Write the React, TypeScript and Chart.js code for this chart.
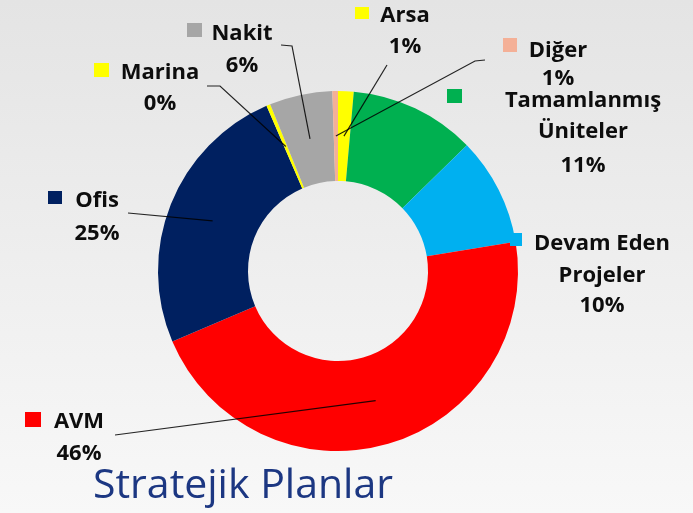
import React, { useEffect, useRef } from "react";
import { Chart, registerables } from "chart.js";

Chart.register(...registerables);

// ---- data ----
const categories = [
  "Arsa",
  "Tamamlanmış Üniteler",
  "Devam Eden Projeler",
  "AVM",
  "Ofis",
  "Marina",
  "Nakit",
  "Diğer",
];
const shares = [1.4, 11.3, 9.7, 46.2, 24.9, 0.35, 5.65, 0.5];
const labelNameLines = [
  ["Arsa"],
  ["Tamamlanmış", "Üniteler"],
  ["Devam Eden", "Projeler"],
  ["AVM"],
  ["Ofis"],
  ["Marina"],
  ["Nakit"],
  ["Diğer"],
];
const sliceColors = [
  "#ffff00",
  "#00b050",
  "#00b0f0",
  "#ff0000",
  "#002060",
  "#ffff00",
  "#a6a6a6",
  "#f4b097",
];
const chartTitle = "Stratejik Planlar";

// ---- label layout (canvas pixels) ----
type LabelLayout = {
  marker: [number, number, number, number];
  cx: number;
  baselines: number[];
  leader?: [number, number][];
};
const LABEL_LAYOUT: LabelLayout[] = [
  { marker: [355, 7, 14, 12], cx: 405, baselines: [22, 53], leader: [[387, 65]] },
  { marker: [447, 89, 15, 14], cx: 583, baselines: [107, 138, 172] },
  { marker: [510, 233, 12, 13], cx: 602, baselines: [250, 282, 312] },
  { marker: [25, 412, 16, 15], cx: 79, baselines: [428, 460], leader: [[115, 435]] },
  { marker: [48, 191, 14, 13], cx: 97, baselines: [207, 240], leader: [[128, 213]] },
  { marker: [94, 63, 15, 14], cx: 160, baselines: [79, 110], leader: [[207, 86], [220, 86]] },
  { marker: [187, 23, 15, 14], cx: 242, baselines: [40, 72], leader: [[281, 45], [292, 46]] },
  { marker: [503, 38, 14, 14], cx: 558, baselines: [57, 85], leader: [[485, 60], [475, 61]] },
];

const LABEL_FONT = "bold 22px 'Open Sans'";

const labelPlugin = {
  id: "sliceLabels",
  afterDatasetsDraw(chart: any) {
    const ctx: CanvasRenderingContext2D = chart.ctx;
    const meta = chart.getDatasetMeta(0);
    const values: number[] = chart.data.datasets[0].data;
    ctx.save();
    meta.data.forEach((arc: any, i: number) => {
      const L = LABEL_LAYOUT[i];
      if (!L) return;
      const p = arc.getProps(
        ["x", "y", "startAngle", "endAngle", "innerRadius", "outerRadius"],
        true
      );
      const mid = (p.startAngle + p.endAngle) / 2;
      const r = (p.innerRadius + p.outerRadius) / 2;
      const ex = p.x + Math.cos(mid) * r;
      const ey = p.y + Math.sin(mid) * r;
      if (L.leader) {
        ctx.beginPath();
        ctx.strokeStyle = "rgba(0,0,0,0.85)";
        ctx.lineWidth = 1.2;
        ctx.moveTo(L.leader[0][0], L.leader[0][1]);
        for (let k = 1; k < L.leader.length; k++) ctx.lineTo(L.leader[k][0], L.leader[k][1]);
        ctx.lineTo(ex, ey);
        ctx.stroke();
      }
      ctx.fillStyle = sliceColors[i];
      ctx.fillRect(L.marker[0], L.marker[1], L.marker[2], L.marker[3]);
      const lines = [...labelNameLines[i], `${Math.round(values[i])}%`];
      ctx.fillStyle = "#0d0d0d";
      ctx.font = LABEL_FONT;
      ctx.textAlign = "center";
      ctx.textBaseline = "alphabetic";
      lines.forEach((t, k) => {
        ctx.fillText(t, L.cx, L.baselines[k]);
      });
    });
    ctx.restore();
  },
};

export default function App() {
  const ref = useRef<HTMLCanvasElement | null>(null);
  useEffect(() => {
    if (!ref.current) return;
    const chart = new Chart(ref.current, {
      type: "doughnut",
      data: {
        labels: categories,
        datasets: [
          {
            data: shares,
            backgroundColor: sliceColors,
            borderWidth: 0,
            hoverOffset: 0,
          },
        ],
      },
      options: {
        responsive: false,
        animation: false,
        events: [],
        radius: 180,
        cutout: 90,
        rotation: 0,
        layout: { padding: { left: 158, right: 175, top: 91, bottom: 62 } },
        plugins: {
          legend: { display: false },
          tooltip: { enabled: false },
          title: { display: false },
        },
      } as any,
      plugins: [labelPlugin],
    });
    return () => chart.destroy();
  }, []);

  return (
    <div
      style={{
        position: "fixed",
        left: 0,
        top: 0,
        width: 693,
        height: 513,
        background: "linear-gradient(to bottom, #e4e4e4 0%, #f0f0f0 60%, #f8f8f8 100%)",
        overflow: "hidden",
      }}
    >
      <canvas
        ref={ref}
        width={693}
        height={513}
        style={{ position: "absolute", left: 0, top: 0, width: 693, height: 513, display: "block" }}
      />
      <div
        style={{
          position: "absolute",
          left: 93,
          top: 462,
          fontFamily: "'Open Sans', sans-serif",
          fontSize: 41,
          lineHeight: "41px",
          color: "#1c3782",
          whiteSpace: "nowrap",
        }}
      >
        {chartTitle}
      </div>
    </div>
  );
}
